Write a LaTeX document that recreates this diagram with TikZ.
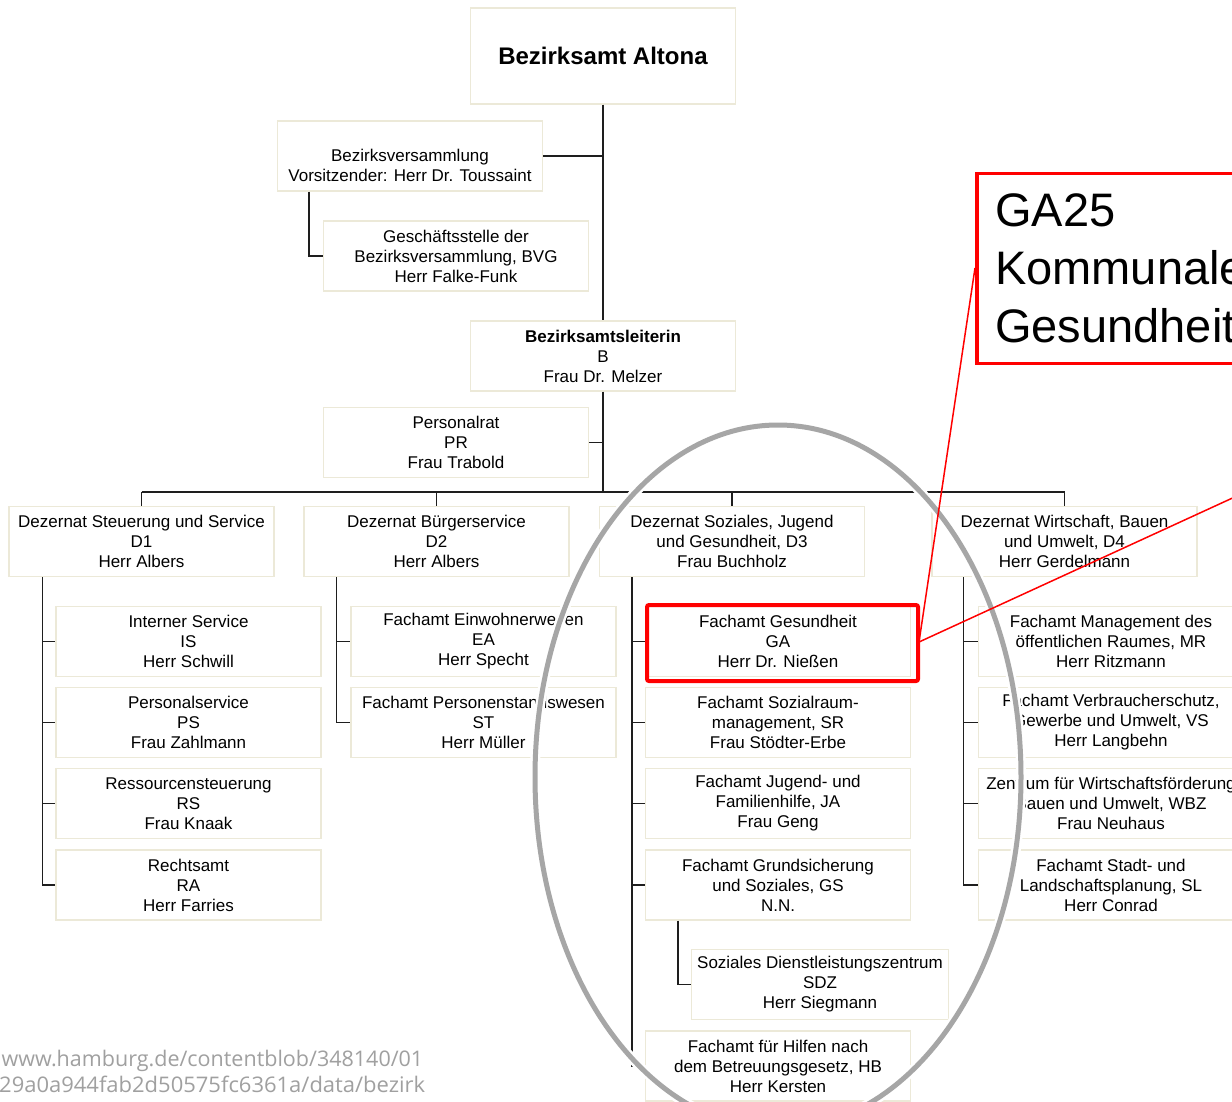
\documentclass[tikz,border=0pt]{standalone}
\usepackage{fontspec}
\setmainfont{Liberation Sans}
\newfontfamily\urlfont{Open Sans}
\definecolor{boxc}{RGB}{236,233,216}
\definecolor{linec}{RGB}{30,30,30}
\definecolor{ellc}{RGB}{166,166,166}
\definecolor{urlc}{RGB}{160,160,160}
\begin{document}
\begin{tikzpicture}[x=1pt,y=-1pt,
  unit/.style={draw=boxc, line width=1.3pt, fill=white, align=center, inner sep=0pt,
    minimum width=265pt, minimum height=70pt, font=\fontsize{17}{20}\selectfont},
  conn/.style={draw=linec, line width=1.3pt},
  ptr/.style={draw=red, line width=1.5pt},
  bigtxt/.style={anchor=base west, inner sep=0pt, font=\fontsize{47}{57}\selectfont},
  urltxt/.style={anchor=base west, inner sep=0pt, text=urlc, font=\urlfont\fontsize{21.5}{26}\selectfont},
]
\useasboundingbox (0,0) rectangle (1232,1101);
\clip (0,0) rectangle (1232,1101);
\fill[white] (0,0) rectangle (1232,1101);

% top level
\node[unit, minimum height=96pt, font=\bfseries\fontsize{24}{28}\selectfont] (top) at (603,56) {Bezirksamt Altona};
\node[unit] (bv) at (410,156) {\vphantom{A}\\Bezirksversammlung\\Vorsitzender: Herr Dr. Toussaint};
\node[unit] (gs) at (456,256) {Geschäftsstelle der\\Bezirksversammlung, BVG\\Herr Falke-Funk};
\node[unit] (bl) at (603,356) {\textbf{Bezirksamtsleiterin}\\B\\Frau Dr. Melzer};
\node[unit] (pr) at (456,442.5) {Personalrat\\PR\\Frau Trabold};

% Dezernate
\node[unit] (d1) at (141.5,541.5) {Dezernat Steuerung und Service\\D1\\Herr Albers};
\node[unit] (d2) at (436.5,541.5) {Dezernat Bürgerservice\\D2\\Herr Albers};
\node[unit] (d3) at (732,541.5) {Dezernat Soziales, Jugend\\und Gesundheit, D3\\Frau Buchholz};
\node[unit] (d4) at (1064.5,541.5) {Dezernat Wirtschaft, Bauen\\und Umwelt, D4\\Herr Gerdelmann};

% D1
\node[unit] (is) at (188.5,641.5) {Interner Service\\IS\\Herr Schwill};
\node[unit] (ps) at (188.5,722.5) {Personalservice\\PS\\Frau Zahlmann};
\node[unit] (rs) at (188.5,803.5) {Ressourcensteuerung\\RS\\Frau Knaak};
\node[unit] (ra) at (188.5,885) {Rechtsamt\\RA\\Herr Farries};

% D2
\node[unit] (ea) at (483.5,641.5) {Fachamt Einwohnerwesen\\EA\\Herr Specht};
\node[unit] (st) at (483.5,722.5) {Fachamt Personenstandswesen\\ST\\Herr Müller};

% D3
\node[unit] (ga) at (778,641.5) {Fachamt Gesundheit\\GA\\Herr Dr. Nießen};
\node[unit] (sr) at (778,722.5) {Fachamt Sozialraum-\\management, SR\\Frau Stödter-Erbe};
\node[unit] (ja) at (778,803.5) {Fachamt Jugend- und\\Familienhilfe, JA\\Frau Geng};
\node[unit] (gsz) at (778,885) {Fachamt Grundsicherung\\und Soziales, GS\\N.N.};
\node[unit, minimum width=257pt] (sdz) at (820,984.5) {Soziales Dienstleistungszentrum\\SDZ\\Herr Siegmann};
\node[unit] (hb) at (778,1066) {Fachamt für Hilfen nach\\dem Betreuungsgesetz, HB\\Herr Kersten};

% D4
\node[unit] (mr) at (1111,641.5) {Fachamt Management des\\öffentlichen Raumes, MR\\Herr Ritzmann};
\node[unit] (vs) at (1111,722.5) {Fachamt Verbraucherschutz,\\Gewerbe und Umwelt, VS\\Herr Langbehn};
\node[unit] (wbz) at (1111,803.5) {Zentrum für Wirtschaftsförderung\\Bauen und Umwelt, WBZ\\Frau Neuhaus};
\node[unit] (sl) at (1111,885) {Fachamt Stadt- und\\Landschaftsplanung, SL\\Herr Conrad};

% connectors
\coordinate (bus) at (603,492);
\draw[conn] (top.south) -- (bl.north);
\draw[conn] (bl.south) -- (bus);
\draw[conn] (bv.east) -- (top.south |- bv.east);
\draw[conn] (pr.east) -- (top.south |- pr.east);
\draw[conn] ([xshift=32pt]bv.south west) |- (gs.west);
\draw[conn] (d1.north |- bus) -- (d4.north |- bus);
\foreach \d in {d1,d2,d3,d4} \draw[conn] (\d.north |- bus) -- (\d.north);

\draw[conn] ([xshift=34pt]d1.south west) coordinate (v1) |- (ra.west);
\foreach \n in {is,ps,rs} \draw[conn] (v1 |- \n.west) -- (\n.west);
\draw[conn] ([xshift=33pt]d2.south west) coordinate (v2) |- (st.west);
\draw[conn] (v2 |- ea.west) -- (ea.west);
\draw[conn] ([xshift=33pt]d3.south west) coordinate (v3) |- (hb.west);
\foreach \n in {ga,sr,ja,gsz} \draw[conn] (v3 |- \n.west) -- (\n.west);
\draw[conn] ([xshift=33pt]gsz.south west) |- (sdz.west);
\draw[conn] ([xshift=32pt]d4.south west) coordinate (v4) |- (sl.west);
\foreach \n in {mr,vs,wbz} \draw[conn] (v4 |- \n.west) -- (\n.west);

% URL caption
\node[urltxt] (url1) at (1.5,1066) {www.hamburg.de/contentblob/348140/01};
\node[urltxt] (url2) at (-1,1092) {\scalebox{1.022}[1]{29a0a944fab2d50575fc6361a/data/bezirk}};

% gray ellipse
\draw[white, line width=10pt] (778,777) ellipse [x radius=243, y radius=352];
\draw[ellc, line width=5pt] (778,777) ellipse [x radius=243, y radius=352];

% red highlight and callout
\node[draw=red, line width=4pt, rounded corners=2pt, minimum width=271pt, minimum height=76pt, inner sep=0pt] (gahl) at (782.5,643) {};
\node[draw=red, line width=3.5pt, fill=white, minimum width=400pt, minimum height=190pt, anchor=north west, inner sep=0pt] (callout) at (975,171.5) {};
\node[bigtxt] (c1) at (995,226) {GA25};
\node[bigtxt] (c2) at (995,284) {Kommunale};
\node[bigtxt] (c3) at (995,342) {Gesundheit};
\coordinate (p0) at (919,642);
\coordinate (p1) at (975,268);
\coordinate (p2) at (1300,467);
\draw[ptr] (p0) -- (p1);
\draw[ptr] (p0) -- (p2);
\end{tikzpicture}
\end{document}
